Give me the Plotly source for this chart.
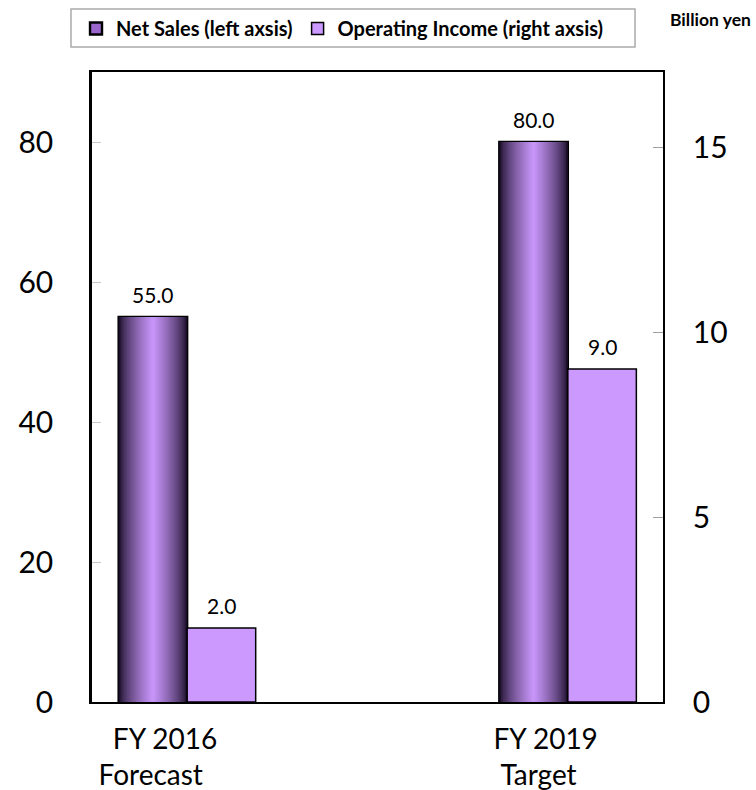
import plotly.graph_objects as go

# Data
categories = ["\u00a0\u00a0FY 2016<br>Forecast\u00a0\u00a0", "\u00a0\u00a0FY 2019<br>Target"]
net_sales = [55.0, 80.0]          # billion yen, left axis
operating_income = [2.0, 9.0]     # billion yen, right axis
left_ticks = [0, 20, 40, 60, 80]
right_ticks = [0, 5, 10, 15]

x_pos = list(range(len(categories)))
BAR_W = 0.18
FONT = "Lato"

dark = (26, 14, 40)
light = (204, 153, 255)
op_color = "#cc99ff"
legend_purple = "#9966cc"


def mix(a, b, t):
    return "rgb({},{},{})".format(*[round(a[k] + (b[k] - a[k]) * t) for k in range(3)])


fig = go.Figure()

# Net sales: outline + legend entry (drawn first, shaded layers go on top)
fig.add_trace(go.Bar(
    x=x_pos, y=net_sales, name="Net Sales (left axsis)",
    width=BAR_W, offset=-BAR_W,
    marker=dict(color=legend_purple, line=dict(color="black", width=2.4)),
    yaxis="y",
))

# Cylinder-like shading: nested bars from dark edges to a light centre
N = 20
for i in range(N):
    d = i / N
    w = BAR_W * (1 - d)
    fig.add_trace(go.Bar(
        x=x_pos, y=net_sales, width=w, offset=-BAR_W + (BAR_W - w) / 2,
        marker=dict(color=mix(dark, light, d ** 0.7), line=dict(width=0)),
        showlegend=False, hoverinfo="skip", yaxis="y",
    ))

# Operating income on the right axis
fig.add_trace(go.Bar(
    x=x_pos, y=operating_income, name="Operating Income (right axsis)",
    width=BAR_W, offset=0,
    marker=dict(color=op_color, line=dict(color="black", width=1.5)),
    yaxis="y2",
))

# Value labels
annotations = []
for xp, v in zip(x_pos, net_sales):
    annotations.append(dict(x=xp - BAR_W / 2, y=v, xref="x", yref="y", text=f"{v:.1f}",
                            showarrow=False, yanchor="bottom", yshift=8,
                            font=dict(family=FONT, size=21, color="black")))
for xp, v in zip(x_pos, operating_income):
    annotations.append(dict(x=xp + BAR_W / 2, y=v, xref="x", yref="y2", text=f"{v:.1f}",
                            showarrow=False, yanchor="bottom", yshift=8,
                            font=dict(family=FONT, size=21, color="black")))
annotations.append(dict(x=1.158, y=1.083, xref="paper", yref="paper", text="<b>Billion yen</b>",
                        showarrow=False, xanchor="right", yanchor="middle",
                        font=dict(family=FONT, size=17.5, color="black")))

# Frame around the legend
shapes = [dict(type="rect", xref="paper", yref="paper",
               x0=-0.0368, x1=0.951, y0=1.0397, y1=1.1,
               line=dict(color="#aaaaaa", width=1.5), fillcolor="rgba(0,0,0,0)", layer="above")]

fig.update_layout(
    width=756, height=790,
    margin=dict(l=92, r=93, t=72, b=88, autoexpand=False),
    paper_bgcolor="white", plot_bgcolor="white",
    barmode="overlay",
    font=dict(family=FONT, color="black"),
    showlegend=True,
    legend=dict(
        orientation="h", x=-0.028, y=1.1, xanchor="left", yanchor="top",
        borderwidth=0, bgcolor="rgba(0,0,0,0)",
        font=dict(family=FONT, size=20, color="black", weight="bold"),
        itemwidth=30, traceorder="normal",
    ),
    xaxis=dict(
        range=[-0.25, 1.25], tickvals=[p - 0.077 for p in x_pos], ticktext=categories,
        showline=True, linecolor="black", linewidth=2, mirror=True,
        showgrid=False, zeroline=False, ticks="", automargin=False,
        tickfont=dict(family=FONT, size=28, color="black"),
        ticklabelstandoff=11,
    ),
    yaxis=dict(
        range=[0, 90], tickvals=left_ticks,
        showline=True, linecolor="black", linewidth=2.5,
        showgrid=False, zeroline=False, automargin=False,
        ticks="inside", ticklen=9, tickcolor="#c8c8c8", tickwidth=1,
        tickfont=dict(family=FONT, size=30, color="black"),
        ticklabelstandoff=30,
    ),
    yaxis2=dict(
        range=[0, 17.03], tickvals=right_ticks, overlaying="y", side="right",
        showline=True, linecolor="black", linewidth=1.5,
        showgrid=False, zeroline=False, automargin=False,
        ticks="inside", ticklen=10, tickcolor="#a0a0a0", tickwidth=1,
        tickfont=dict(family=FONT, size=30, color="black"),
        ticklabelstandoff=22,
    ),
    shapes=shapes,
    annotations=annotations,
)

fig.write_html("out.html")
